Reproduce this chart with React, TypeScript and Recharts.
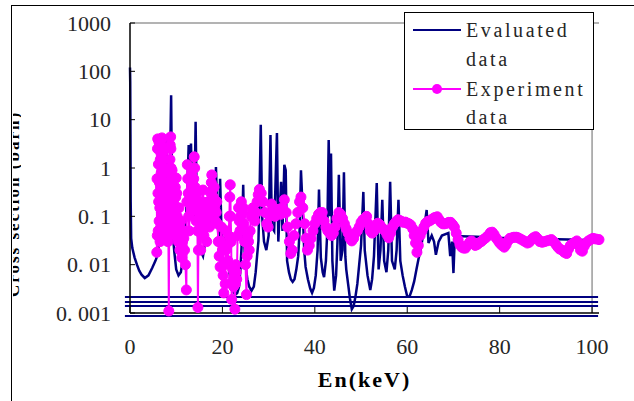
import React from 'react'
import { LineChart, Line, XAxis, YAxis, ReferenceLine } from 'recharts'

// Evaluated total cross section [En keV, sigma barn]
const evaluated: [number, number][] = [
  [0, 120], [0.05, 60], [0.1, 5], [0.15, 0.2], [0.25, 0.035], [0.5, 0.022], [1.0, 0.014],
  [1.5, 0.01], [2.0, 0.0075], [2.5, 0.0062], [3.2, 0.0053], [4.0, 0.006], [4.8, 0.0085],
  [5.5, 0.012], [6.0, 0.016], [6.3, 0.03], [6.6, 0.15], [6.9, 0.05], [7.2, 0.6], [7.5, 0.1],
  [7.8, 4.4], [8.0, 0.3], [8.3, 0.05], [8.6, 0.5], [8.9, 32], [9.1, 0.3], [9.4, 0.03],
  [9.6, 0.018], [10.0, 0.008], [10.5, 0.006], [11.0, 0.007], [11.4, 0.012], [11.7, 0.022],
  [12.0, 0.05], [12.4, 0.4], [12.7, 3.0], [12.9, 0.5], [13.2, 3.2], [13.5, 0.2], [13.9, 0.1],
  [14.2, 9], [14.4, 0.3], [14.7, 0.04], [15.2, 0.02], [15.8, 0.015], [16.3, 0.03], [16.8, 0.1],
  [17.3, 0.05], [17.8, 0.3], [18.3, 0.08], [18.6, 1.05], [18.9, 0.1], [19.2, 0.03],
  [19.5, 0.6], [19.8, 0.05], [20.3, 0.02], [20.8, 0.06], [21.3, 0.01], [21.6, 0.006],
  [22.0, 0.0035], [22.4, 0.0027], [22.8, 0.0024], [23.2, 0.0026], [23.6, 0.0035],
  [23.9, 0.008], [24.2, 0.03], [24.5, 0.45], [24.8, 0.02], [25.0, 0.01], [25.4, 0.005],
  [25.8, 0.0035], [26.3, 0.0029], [26.8, 0.0035], [27.2, 0.007], [27.5, 0.015], [27.8, 0.031],
  [28.0, 0.2], [28.3, 7.8], [28.6, 0.1], [29.0, 0.03], [29.5, 0.02], [30.0, 0.04], [30.4, 4.8],
  [30.7, 0.06], [31.2, 0.05], [31.8, 5.3], [32.1, 0.03], [32.7, 0.52], [33.0, 0.05],
  [33.4, 1.17], [33.7, 0.9], [34.0, 0.012], [34.4, 0.007], [34.8, 0.005], [35.2, 0.0044],
  [35.6, 0.005], [36.0, 0.008], [36.4, 0.015], [36.7, 0.05], [37.0, 0.9], [37.3, 0.2],
  [37.7, 0.02], [38.0, 0.009], [38.5, 0.005], [39.0, 0.0032], [39.4, 0.0026], [39.8, 0.0033],
  [40.2, 0.006], [40.6, 0.02], [40.9, 0.36], [41.3, 0.014], [41.7, 0.007], [42.0, 0.0055],
  [42.4, 0.012], [42.7, 0.05], [43.0, 3.8], [43.3, 0.1], [43.5, 2.0], [43.8, 0.012],
  [44.2, 0.0029], [44.6, 0.006], [44.9, 0.03], [45.2, 0.72], [45.6, 0.012], [46.0, 0.02],
  [46.3, 0.82], [46.6, 0.015], [46.8, 0.008], [47.2, 0.004], [47.6, 0.002], [48.0, 0.0012],
  [48.4, 0.0014], [48.8, 0.0022], [49.2, 0.004], [49.6, 0.01], [50.0, 0.025], [50.5, 0.32],
  [50.8, 0.02], [51.4, 0.006], [52.0, 0.003], [52.4, 0.005], [52.8, 0.015], [53.4, 0.49],
  [53.8, 0.008], [54.2, 0.02], [54.6, 0.22], [55.0, 0.012], [55.5, 0.007], [55.9, 0.02],
  [56.3, 0.52], [56.7, 0.012], [57.3, 0.008], [57.7, 0.02], [58.1, 0.22], [58.5, 0.012],
  [59.0, 0.006], [59.5, 0.0035], [60.0, 0.0022], [60.5, 0.0022], [61.0, 0.003],
  [61.5, 0.0045], [62.0, 0.008], [62.5, 0.014], [62.9, 0.02], [63.6, 0.052], [64.2, 0.135],
  [64.6, 0.028], [65.3, 0.04], [65.8, 0.03], [66.2, 0.016], [66.8, 0.03], [67.5, 0.04],
  [68.9, 0.045], [69.3, 0.015], [69.7, 0.03], [70.0, 0.0067], [70.3, 0.039], [75, 0.038],
  [80, 0.036], [85, 0.035], [90, 0.034], [95, 0.033], [100, 0.032], [101.3, 0.032],
]

// Measured points [En keV, sigma barn]
const experiment: [number, number][] = [
  [5.8, 0.018], [5.85, 0.6], [5.9, 0.04], [5.95, 2.5], [6.0, 4.0], [6.05, 0.3], [6.1, 0.05],
  [6.15, 1.2], [6.2, 0.2], [6.25, 3.5], [6.3, 0.08], [6.35, 0.5], [6.4, 3.0], [6.45, 0.15],
  [6.5, 0.03], [6.55, 1.5], [6.6, 0.4], [6.65, 0.06], [6.7, 2.0], [6.75, 0.8], [6.8, 0.12],
  [6.85, 3.8], [6.9, 4.2], [6.95, 0.6], [7.0, 0.2], [7.05, 1.0], [7.1, 0.07], [7.15, 0.3],
  [7.2, 1.5], [7.25, 2.2], [7.3, 0.25], [7.35, 0.04], [7.4, 0.1], [7.5, 0.8], [7.55, 0.3],
  [7.6, 2.5], [7.65, 1.0], [7.7, 0.12], [7.75, 0.05], [7.8, 0.4], [7.85, 0.15], [7.9, 0.06],
  [8.0, 0.2], [8.1, 0.08], [8.2, 0.03], [8.3, 0.05], [8.4, 0.0011], [8.5, 0.1], [8.6, 0.5],
  [8.65, 1.5], [8.7, 3.0], [8.8, 4.4], [8.85, 2.5], [8.9, 1.0], [8.95, 0.3], [9.0, 0.6],
  [9.05, 0.15], [9.1, 0.9], [9.15, 0.25], [9.2, 0.06], [9.3, 0.12], [9.4, 0.2], [9.5, 0.08],
  [9.6, 0.04], [9.7, 0.15], [9.8, 0.4], [9.9, 0.25], [10.0, 0.62], [10.1, 0.3], [10.2, 0.1],
  [10.3, 0.05], [10.4, 0.03], [10.5, 0.08], [10.6, 0.15], [10.7, 0.06], [10.8, 0.02],
  [10.9, 0.04], [11.0, 0.08], [11.1, 0.03], [11.2, 0.014], [11.35, 0.03], [11.5, 0.05],
  [11.65, 0.035], [11.8, 0.02], [12.0, 0.01], [12.2, 0.003], [12.3, 0.2], [12.4, 1.17],
  [12.5, 0.6], [12.6, 0.3], [12.7, 0.1], [12.8, 0.05], [12.9, 0.2], [13.0, 0.6], [13.1, 0.3],
  [13.2, 0.12], [13.3, 0.4], [13.4, 0.7], [13.5, 0.9], [13.6, 0.45], [13.7, 0.2], [13.8, 0.6],
  [13.9, 1.7], [14.0, 1.0], [14.1, 0.4], [14.2, 0.15], [14.3, 0.08], [14.4, 0.15], [14.5, 0.3],
  [14.6, 0.05], [14.7, 0.0013], [14.8, 0.02], [14.9, 0.05], [15.0, 0.12], [15.1, 0.2],
  [15.2, 0.06], [15.3, 0.02], [15.4, 0.05], [15.5, 0.1], [15.65, 0.2], [15.8, 0.35],
  [15.9, 0.12], [16.0, 0.04], [16.15, 0.08], [16.3, 0.15], [16.45, 0.06], [16.6, 0.03],
  [16.75, 0.1], [16.9, 0.2], [17.05, 0.1], [17.2, 0.06], [17.35, 0.15], [17.5, 0.3],
  [17.6, 0.5], [17.7, 0.72], [17.8, 0.35], [17.9, 0.15], [18.05, 0.25], [18.2, 0.4],
  [18.35, 0.15], [18.5, 0.08], [18.65, 0.12], [18.8, 0.2], [18.95, 0.07], [19.1, 0.03],
  [19.3, 0.015], [19.5, 0.009], [19.65, 0.03], [19.8, 0.06], [20.0, 0.02], [20.15, 0.006],
  [20.3, 0.0026], [20.45, 0.01], [20.6, 0.004], [20.75, 0.02], [20.9, 0.05], [21.05, 0.025],
  [21.2, 0.012], [21.35, 0.04], [21.5, 0.1], [21.6, 0.25], [21.7, 0.45], [21.8, 0.1],
  [21.9, 0.03], [22.0, 0.0019], [22.1, 0.004], [22.2, 0.008], [22.3, 0.005], [22.4, 0.0035],
  [22.55, 0.006], [22.7, 0.0012], [22.8, 0.004], [22.9, 0.01], [23.0, 0.007], [23.1, 0.005],
  [23.3, 0.04], [23.5, 0.15], [23.65, 0.08], [23.8, 0.05], [23.95, 0.1], [24.1, 0.2],
  [24.3, 0.12], [24.5, 0.15], [24.65, 0.07], [24.8, 0.03], [25.0, 0.01], [25.2, 0.0024],
  [25.35, 0.015], [25.5, 0.04], [25.65, 0.03], [25.8, 0.02], [26.0, 0.05], [26.2, 0.1],
  [26.4, 0.12], [26.6, 0.15], [26.8, 0.1], [27.0, 0.08], [27.25, 0.12], [27.5, 0.2],
  [27.75, 0.28], [28.0, 0.36], [28.4, 0.3], [28.8, 0.2], [29.2, 0.12], [29.6, 0.07],
  [29.9, 0.06], [30.3, 0.1], [30.6, 0.18], [31.0, 0.15], [31.4, 0.1], [31.8, 0.12],
  [32.2, 0.14], [32.6, 0.11], [33.0, 0.15], [33.4, 0.22], [33.8, 0.12], [34.1, 0.06],
  [34.5, 0.03], [34.8, 0.017], [35.1, 0.02], [35.5, 0.04], [35.9, 0.07], [36.3, 0.12],
  [36.7, 0.2], [37.0, 0.25], [37.4, 0.15], [37.8, 0.07], [38.1, 0.035], [38.4, 0.02],
  [38.8, 0.025], [39.2, 0.035], [39.6, 0.05], [40.0, 0.07], [40.4, 0.09], [40.8, 0.11],
  [41.2, 0.12], [41.6, 0.12], [42.0, 0.08], [42.4, 0.06], [42.8, 0.05], [43.2, 0.045],
  [43.6, 0.04], [44.0, 0.045], [44.4, 0.06], [44.8, 0.09], [45.2, 0.12], [45.6, 0.11],
  [46.0, 0.09], [46.4, 0.07], [46.8, 0.055], [47.2, 0.045], [47.6, 0.035], [48.0, 0.031],
  [48.4, 0.035], [48.8, 0.045], [49.2, 0.05], [49.6, 0.06], [50.0, 0.075], [50.4, 0.085],
  [50.8, 0.09], [51.2, 0.1], [51.6, 0.07], [52.0, 0.05], [52.4, 0.045], [52.8, 0.05],
  [53.2, 0.06], [53.6, 0.072], [54.0, 0.068], [54.4, 0.06], [54.8, 0.055], [55.2, 0.05],
  [55.6, 0.042], [56.0, 0.036], [56.4, 0.045], [56.8, 0.06], [57.2, 0.07], [57.6, 0.078],
  [58.0, 0.085], [58.4, 0.082], [58.8, 0.078], [59.2, 0.075], [59.6, 0.076], [60.0, 0.072],
  [60.4, 0.07], [60.8, 0.065], [61.2, 0.055], [61.5, 0.04], [61.8, 0.028], [62.1, 0.018],
  [62.4, 0.025], [62.8, 0.04], [63.2, 0.05], [63.6, 0.06], [64.0, 0.072], [64.4, 0.078],
  [64.8, 0.08], [65.2, 0.085], [65.6, 0.09], [66.0, 0.095], [66.5, 0.098], [66.9, 0.085],
  [67.3, 0.075], [67.7, 0.07], [68.1, 0.07], [68.6, 0.072], [69.0, 0.075], [69.4, 0.075],
  [69.8, 0.068], [70.2, 0.06], [70.6, 0.045], [71.0, 0.033], [71.4, 0.026], [71.8, 0.023],
  [72.2, 0.022], [72.6, 0.022], [73.0, 0.025], [73.5, 0.029], [73.9, 0.031], [74.3, 0.028],
  [74.7, 0.025], [75.1, 0.026], [75.5, 0.028], [76.0, 0.03], [76.5, 0.033], [77.0, 0.036],
  [77.5, 0.04], [78.0, 0.046], [78.4, 0.047], [78.8, 0.042], [79.2, 0.036], [79.6, 0.032],
  [80.0, 0.028], [80.5, 0.025], [81.0, 0.023], [81.4, 0.026], [81.8, 0.031], [82.2, 0.035],
  [82.7, 0.036], [83.1, 0.037], [83.6, 0.037], [84.0, 0.036], [84.5, 0.034], [85.0, 0.032],
  [85.5, 0.03], [86.0, 0.028], [86.4, 0.029], [86.9, 0.033], [87.3, 0.036], [87.8, 0.038],
  [88.3, 0.034], [88.7, 0.03], [89.2, 0.029], [89.7, 0.03], [90.2, 0.031], [90.7, 0.032],
  [91.2, 0.033], [91.7, 0.03], [92.2, 0.026], [92.6, 0.023], [93.0, 0.021], [93.5, 0.02],
  [94.0, 0.018], [94.5, 0.017], [94.9, 0.021], [95.3, 0.025], [95.8, 0.027], [96.3, 0.029],
  [96.7, 0.031], [97.1, 0.026], [97.5, 0.02], [97.9, 0.019], [98.3, 0.024], [98.7, 0.028],
  [99.2, 0.031], [99.7, 0.033], [100.2, 0.035], [100.8, 0.034], [101.5, 0.033],
]

// flat low-level traces running across the frame
const baseTraces = [0.00214, 0.00169, 0.0014, 0.00087]
const traceSpan = [-1.1, 101.3]

const xTicks = [0, 20, 40, 60, 80, 100]
const yTicks = [0.001, 0.01, 0.1, 1, 10, 100, 1000]

const NAVY = '#000080'
const MAGENTA = '#FF00FF'
const SERIF = '"Liberation Serif", "Times New Roman", serif'

const evalData = evaluated.map(([e, s]) => ({ e, s }))
const expData = experiment.map(([e, s]) => ({ e, s }))

// period set wide, SimSun-style
const fmtY = (v: number) => String(v).replace('.', '. ')

const XTick = (props: any) => {
  const { x, y, payload } = props
  return (
    <g>
      <line x1={x} x2={x} y1={y} y2={y - 6} stroke="#000" strokeWidth={1} />
      <text x={x} y={y + 41} textAnchor="middle" fontSize={22} fill="#262626" fontFamily={SERIF}>
        {payload.value}
      </text>
    </g>
  )
}

const YTick = (props: any) => {
  const { x, y, payload } = props
  return (
    <g>
      <line x1={x} x2={x + 5} y1={y} y2={y} stroke="#000" strokeWidth={1} />
      <text x={x - 19} y={y + 7.5} textAnchor="end" fontSize={22} fill="#262626" fontFamily={SERIF}>
        {fmtY(payload.value)}
      </text>
    </g>
  )
}

const legendText: React.CSSProperties = {
  position: 'absolute',
  left: 61,
  fontFamily: SERIF,
  fontSize: 20,
  letterSpacing: 2.6,
  color: '#262626',
  lineHeight: '20px',
}

function LegendBox() {
  return (
    <div
      style={{
        position: 'absolute',
        left: 404,
        top: 12,
        width: 188,
        height: 116,
        border: '1px solid #000',
        background: '#fff',
      }}
    >
      <svg width={60} height={116} style={{ position: 'absolute', left: 0, top: 0 }}>
        <line x1={8} x2={56} y1={17} y2={17} stroke={NAVY} strokeWidth={2} />
        <line x1={8} x2={56} y1={76} y2={76} stroke={MAGENTA} strokeWidth={2} />
        <circle cx={32} cy={76} r={5} fill={MAGENTA} />
      </svg>
      <div style={{ ...legendText, top: 7 }}>Evaluated</div>
      <div style={{ ...legendText, top: 36 }}>data</div>
      <div style={{ ...legendText, top: 66 }}>Experiment</div>
      <div style={{ ...legendText, top: 94 }}>data</div>
    </div>
  )
}

export default function App() {
  return (
    <div style={{ position: 'absolute', left: 0, top: 0, width: 634, height: 401, background: '#fff', overflow: 'hidden' }}>
      {/* outer frame, top and left edges */}
      <div
        style={{
          position: 'absolute',
          left: 11,
          top: 5,
          width: 640,
          height: 410,
          borderTop: '1px solid #000',
          borderLeft: '1px solid #000',
        }}
      />
      <LineChart width={634} height={401} margin={{ top: 23, right: 35, bottom: 0, left: 70 }} style={{ position: 'absolute', left: 0, top: 0 }}>
        <XAxis
          type="number"
          dataKey="e"
          domain={() => [0, 100]}
          ticks={xTicks}
          interval={0}
          height={88}
          tickSize={0}
          tickMargin={0}
          tick={<XTick />}
          axisLine={{ stroke: '#000', strokeWidth: 1.5 }}
          label={(p: any) => (
            <text
              x={p.viewBox.x + p.viewBox.width / 2}
              y={p.viewBox.y + 74}
              textAnchor="middle"
              fontSize={22}
              fontWeight="bold"
              letterSpacing={2}
              fontFamily={SERIF}
              fill="#000"
            >
              En(keV)
            </text>
          )}
        />
        <YAxis
          type="number"
          dataKey="s"
          scale="log"
          domain={[0.001, 1000]}
          ticks={yTicks}
          interval={0}
          width={60}
          tickSize={0}
          tickMargin={0}
          tick={<YTick />}
          axisLine={{ stroke: '#000', strokeWidth: 1.5 }}
        />
        <ReferenceLine y={1000} stroke="#9a9a9a" strokeWidth={1.5} />
        <ReferenceLine x={100} stroke="#9a9a9a" strokeWidth={1.5} />
        {baseTraces.map((v) => (
          <ReferenceLine
            key={v}
            segment={[{ x: traceSpan[0], y: v }, { x: traceSpan[1], y: v }]}
            ifOverflow="visible"
            stroke={NAVY}
            strokeWidth={2}
          />
        ))}
        <Line
          data={evalData}
          dataKey="s"
          stroke={NAVY}
          strokeWidth={2.5}
          dot={false}
          isAnimationActive={false}
        />
        <Line
          data={expData}
          dataKey="s"
          stroke={MAGENTA}
          strokeWidth={2}
          dot={{ r: 5, fill: MAGENTA, stroke: MAGENTA, strokeWidth: 1 }}
          isAnimationActive={false}
        />
      </LineChart>
      {/* axis title, mostly hidden behind the frame edge */}
      <svg width={8} height={401} style={{ position: 'absolute', left: 13, top: 0 }}>
        <text
          transform="rotate(-90)"
          x={-204}
          y={6}
          textAnchor="middle"
          fontSize={17}
          fontWeight="bold"
          letterSpacing={2}
          fontFamily={SERIF}
          fill="#000"
        >
          Cross section (barn)
        </text>
      </svg>
      <LegendBox />
    </div>
  )
}
